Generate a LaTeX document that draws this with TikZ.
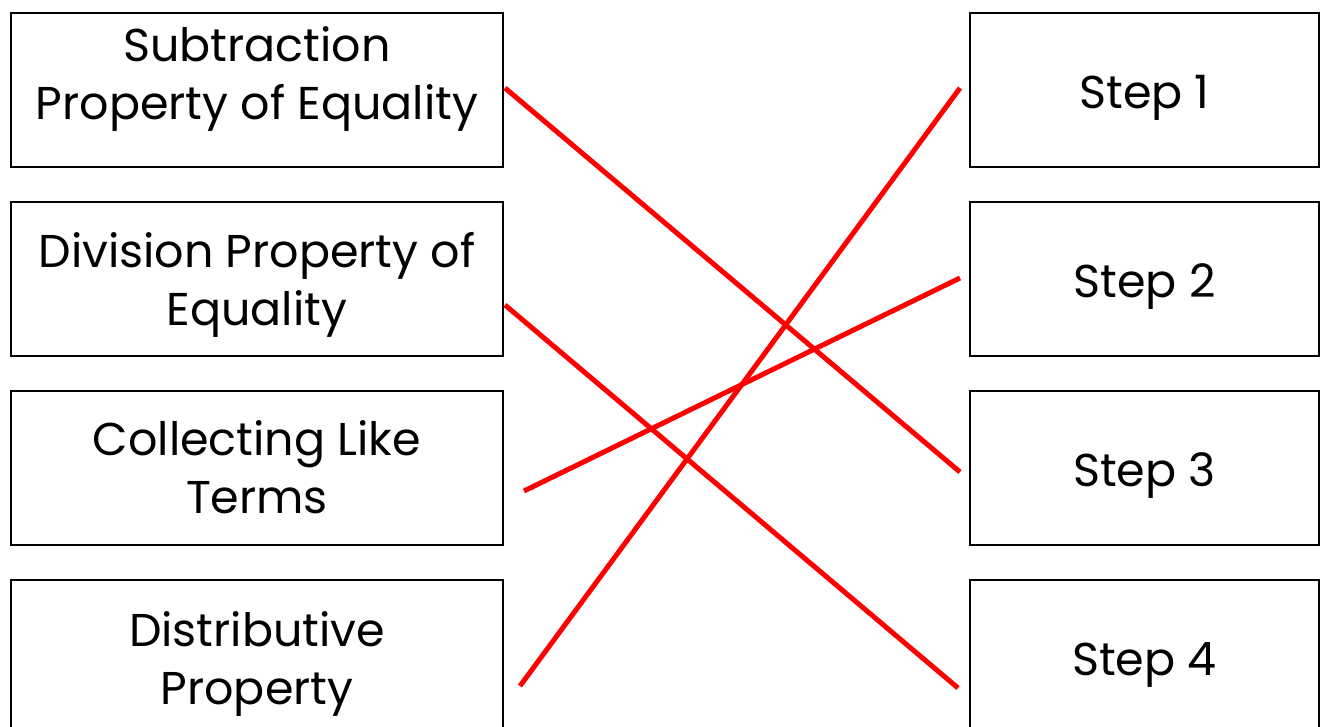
\documentclass[tikz,border=0pt]{standalone}
\usepackage{fontspec}
\setmainfont{Poppins}
\begin{document}
\begin{tikzpicture}[x=1pt,y=-1pt,
  card/.style={draw=black,line width=2pt,fill=white,inner sep=0pt},
  leftcard/.style={card,minimum width=492pt,minimum height=154pt},
  rightcard/.style={card,minimum width=349pt,minimum height=154pt},
  cardtext/.style={align=center,inner sep=0pt,font=\fontsize{46}{58}\selectfont},
  link/.style={draw=red,line width=5pt}]
\useasboundingbox[fill=white] (0,0) rectangle (1325,727);
% left column: properties
\node[leftcard] (L1) at (257,90) {};
\node[leftcard] (L2) at (257,279) {};
\node[leftcard] (L3) at (257,468) {};
\node[leftcard] (L4) at (257,657) {};
\node[cardtext] (L1t) at ([yshift=11pt]L1.center) {Subtraction\\Property of Equality};
\node[cardtext] (L2t) at ([yshift=-6pt]L2.center) {Division Property of\\Equality};
\node[cardtext] (L3t) at ([yshift=1pt]L3.center) {Collecting Like\\Terms};
\node[cardtext] (L4t) at ([yshift=-7pt]L4.center) {Distributive\\Property};
% right column: steps
\node[rightcard] (R1) at (1144.5,90) {};
\node[rightcard] (R2) at (1144.5,279) {};
\node[rightcard] (R3) at (1144.5,468) {};
\node[rightcard] (R4) at (1144.5,657) {};
\node[cardtext] (R1t) at ([yshift=-8pt]R1.center) {Step 1};
\node[cardtext] (R2t) at ([yshift=-8pt]R2.center) {Step 2};
\node[cardtext] (R3t) at ([yshift=-8pt]R3.center) {Step 3};
\node[cardtext] (R4t) at ([yshift=-8pt]R4.center) {Step 4};
% end points of the matching lines
\coordinate (a1) at (505,88);   \coordinate (b3) at (960,472);
\coordinate (a2) at (505,305);  \coordinate (b4) at (958,688);
\coordinate (a3) at (524,491);  \coordinate (b2) at (960,278);
\coordinate (a4) at (520,686);  \coordinate (b1) at (960,88);
\draw[link] (a1) -- (b3);
\draw[link] (a2) -- (b4);
\draw[link] (a3) -- (b2);
\draw[link] (a4) -- (b1);
\end{tikzpicture}
\end{document}
